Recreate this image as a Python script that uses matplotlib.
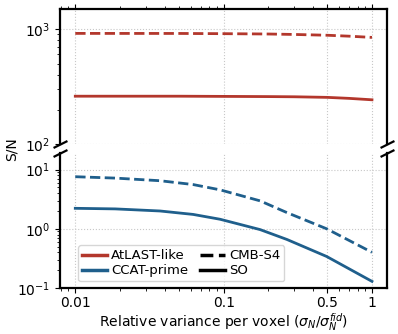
import numpy as np
import matplotlib
matplotlib.use('Agg')
import matplotlib.pyplot as plt

matplotlib.rcParams['font.size'] = 10
matplotlib.rcParams['xtick.labelsize'] = 10
matplotlib.rcParams['ytick.labelsize'] = 10
matplotlib.rcParams['xtick.major.pad'] = 2
matplotlib.rcParams['axes.linewidth'] = 1.6

# values
x_atl = [0.01, 0.05, 0.1, 0.2, 0.3, 0.5, 0.7, 1.0]
atl_s4 = [911, 910, 906, 900, 892, 878, 862, 841]
atl_so = [261, 261, 260, 259, 258, 255, 250, 243]

x_ccat = [0.01, 0.0186, 0.0373, 0.0623, 0.0946, 0.176, 0.267, 0.495, 1.0]
ccat_s4 = [7.6, 7.2, 6.5, 5.6, 4.56, 2.97, 1.88, 1.0, 0.40]
ccat_so = [2.22, 2.17, 2.0, 1.75, 1.45, 0.97, 0.66, 0.34, 0.129]

xticks = [0.01, 0.1, 0.5, 1]
xticklabels = ['0.01', '0.1', '0.5', '1']

c_red = '#b3372c'
c_blue = '#1f5f8c'

fig, (ax1, ax2) = plt.subplots(2, 1, sharex=True, figsize=(3.98, 3.34), dpi=100)
fig.subplots_adjust(left=0.151, right=0.972, top=0.973, bottom=0.138, hspace=0.06)

ax1.plot(x_atl, atl_s4, '--', c=c_red, lw=2)
ax1.plot(x_atl, atl_so, '-', c=c_red, lw=2)
ax2.plot(x_ccat, ccat_s4, '--', c=c_blue, lw=2)
ax2.plot(x_ccat, ccat_so, '-', c=c_blue, lw=2)

for ax in (ax1, ax2):
    ax.set_xscale('log')
    ax.set_yscale('log')
    ax.grid(True, ls=':', c='#c8c8c8', lw=0.8)

ax1.set_ylim(100, 1480)
ax2.set_ylim(0.1, 19.5)
ax2.set_xlim(0.0079, 1.26)

ax1.spines['bottom'].set_visible(False)
ax2.spines['top'].set_visible(False)
ax1.xaxis.tick_top()
ax1.tick_params(labeltop=False)
ax2.xaxis.tick_bottom()

ax2.set_xticks(xticks)
ax2.set_xticklabels(xticklabels)
ax2.set_xlabel(r'Relative variance per voxel ($\sigma_N/\sigma_N^{fid}$)', fontsize=10, labelpad=1)
fig.text(0.03, 0.555, 'S/N', rotation=90, ha='center', va='center', fontsize=10)

# break marks
d = .5
kw = dict(marker=[(-1, -d), (1, d)], markersize=10, linestyle='none',
          color='k', mec='k', mew=1.6, clip_on=False)
ax1.plot([0, 1], [0, 0], transform=ax1.transAxes, **kw)
ax2.plot([0, 1], [1, 1], transform=ax2.transAxes, **kw)

# legend
h = [plt.Line2D([], [], c=c_red, lw=2.5),
     plt.Line2D([], [], c=c_blue, lw=2.5),
     plt.Line2D([], [], c='k', ls='--', lw=2.5),
     plt.Line2D([], [], c='k', lw=2.5)]
ax2.legend(h, ['AtLAST-like', 'CCAT-prime', 'CMB-S4', 'SO'], ncol=2, loc='lower left',
           fontsize=9.5, handlelength=1.9, handletextpad=0.3, columnspacing=0.9,
           labelspacing=0.15, borderpad=0.3, bbox_to_anchor=(0.035, 0.0))

fig.savefig('out.png', dpi=100)
